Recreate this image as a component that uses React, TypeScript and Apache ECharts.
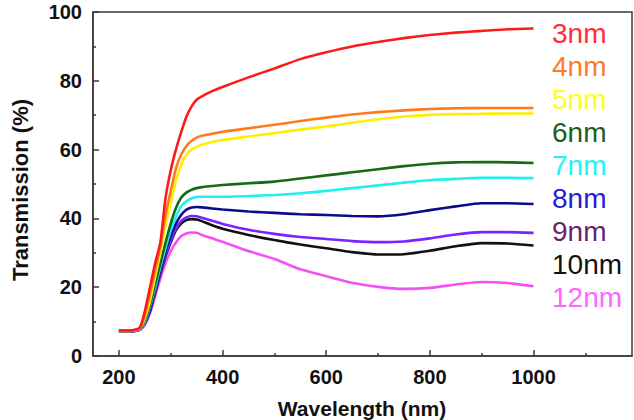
import React, { useEffect, useRef } from "react";
import * as echarts from "echarts";

// Wavelength sampling (nm) shared by every transmission curve
const wavelengths = [200, 220, 240, 250, 260, 270, 280, 290, 300, 310, 320, 330, 340, 350, 360, 380, 400, 450, 500, 550, 600, 650, 700, 750, 800, 850, 900, 950, 1000];

// Transmission (%) for each film thickness
const t3nm = [7.5, 7.4, 8.2, 13, 20, 27, 33, 46, 54, 60, 65, 69.5, 72.5, 74.5, 75.5, 77, 78.2, 81, 83.6, 86.3, 88.3, 90, 91.3, 92.4, 93.3, 94, 94.5, 95, 95.2];
const t4nm = [7.3, 7.3, 8, 12, 18, 25, 32, 41, 48, 54.5, 58.5, 61, 62.5, 63.5, 64, 64.6, 65.2, 66.2, 67.2, 68.3, 69.3, 70.2, 70.9, 71.4, 71.8, 72, 72.1, 72.1, 72.1];
const t5nm = [7.3, 7.3, 7.9, 11, 16, 23, 30, 38, 44.5, 51, 55.5, 58.5, 60, 60.8, 61.4, 62.2, 62.8, 63.8, 64.8, 65.8, 66.7, 67.8, 68.8, 69.6, 70.1, 70.3, 70.4, 70.5, 70.5];
const t6nm = [7.3, 7.3, 7.9, 10.5, 15, 21, 27, 33, 38.5, 43, 46, 47.5, 48.3, 48.8, 49.1, 49.4, 49.7, 50.2, 50.7, 51.6, 52.5, 53.4, 54.3, 55.2, 55.9, 56.3, 56.4, 56.3, 56.1];
const t7nm = [7.3, 7.3, 7.8, 10, 14.5, 20, 26, 31.5, 36.5, 40.5, 43.5, 45, 45.8, 46.2, 46.3, 46.3, 46.3, 46.5, 46.8, 47.3, 48, 48.8, 49.6, 50.4, 51.1, 51.5, 51.8, 51.8, 51.7];
const t8nm = [7.3, 7.3, 7.8, 10, 14, 19.5, 25, 30.5, 35, 38.5, 41, 42.5, 43.2, 43.3, 43.2, 42.9, 42.6, 42, 41.6, 41.2, 41, 40.7, 40.6, 41.2, 42.4, 43.5, 44.4, 44.4, 44.2];
const t9nm = [7.2, 7.2, 7.7, 9.5, 13.5, 19, 24.5, 29.5, 33.5, 37, 39.2, 40.3, 40.7, 40.6, 40.2, 39.3, 38.4, 36.7, 35.5, 34.6, 34, 33.4, 33.1, 33.3, 34.2, 35.3, 36, 36, 35.8];
const t10nm = [7.2, 7.2, 7.7, 9.5, 13, 18.5, 24, 29, 33, 36.5, 38.5, 39.5, 39.8, 39.7, 39.2, 38, 37, 35.2, 33.7, 32.4, 31.3, 30.2, 29.5, 29.6, 30.6, 31.9, 32.8, 32.7, 32.1];
const t12nm = [7.2, 7.2, 7.6, 9, 12.5, 17.5, 22.5, 27, 30.5, 33, 34.8, 35.6, 35.9, 35.8, 35.2, 34.2, 33.2, 30.5, 28.2, 25.2, 23.2, 21.3, 20.1, 19.5, 19.8, 20.8, 21.5, 21.2, 20.3];

const seriesNames = ["3nm", "4nm", "5nm", "6nm", "7nm", "8nm", "9nm", "10nm", "12nm"];
const seriesValues = [t3nm, t4nm, t5nm, t6nm, t7nm, t8nm, t9nm, t10nm, t12nm];
const lineColors = ["#ff1a1a", "#ff7a1a", "#ffee00", "#136b13", "#1ef0f0", "#0c0c8a", "#7a22ff", "#111111", "#f550f5"];
const labelColors = ["#ff2d3a", "#ff7a28", "#ffff1a", "#1d5e1d", "#22f2f2", "#1f1fd8", "#6e1f6e", "#111111", "#ff66ff"];

// Axis tick positions
const xMajorTicks = [200, 400, 600, 800, 1000];
const xMinorTicks = [300, 500, 700, 900, 1100];

const FONT = "'Liberation Sans', Arial, Helvetica, sans-serif";

export default function App() {
  const ref = useRef<HTMLDivElement>(null);

  useEffect(() => {
    if (!ref.current) return;
    const chart = echarts.init(ref.current, undefined, { renderer: "svg" });

    const series = seriesNames.map((name, i) => ({
      name,
      type: "line",
      xAxisIndex: 0,
      yAxisIndex: 0,
      showSymbol: false,
      smooth: 0.2,
      data: wavelengths.map((w, j) => [w, seriesValues[i][j]]),
      lineStyle: { color: lineColors[i], width: 2.6 },
      itemStyle: { color: lineColors[i] },
      z: 10 - i,
    }));

    const labelTop = 33;
    const labelStep = 33.1;
    const labels = seriesNames.map((name, i) => ({
      type: "text",
      x: 552,
      y: labelTop + i * labelStep,
      style: {
        text: name,
        fill: labelColors[i],
        font: `28px ${FONT}`,
        textVerticalAlign: "middle",
        textAlign: "left",
      },
    }));

    chart.setOption({
      animation: false,
      backgroundColor: "#ffffff",
      grid: {
        left: 93,
        right: 2,
        top: 12,
        bottom: 64,
        show: true,
        borderColor: "#3a3a3a",
        borderWidth: 1.5,
        backgroundColor: "transparent",
      },
      xAxis: [
        {
          type: "value",
          min: 150,
          max: 1190,
          position: "bottom",
          splitLine: { show: false },
          axisLine: { show: true, lineStyle: { color: "#3a3a3a", width: 1.5 } },
          axisTick: {
            show: true,
            inside: true,
            length: 6,
            customValues: xMajorTicks,
            lineStyle: { color: "#3a3a3a", width: 1.5 },
          },
          axisLabel: {
            customValues: xMajorTicks,
            formatter: (v: number) => String(v),
            margin: 11,
            color: "#111",
            fontFamily: FONT,
            fontWeight: "bold",
            fontSize: 20,
          },
        },
        {
          type: "value",
          min: 150,
          max: 1190,
          position: "bottom",
          splitLine: { show: false },
          axisLine: { show: false },
          axisTick: {
            show: true,
            inside: true,
            length: 3,
            customValues: xMinorTicks,
            lineStyle: { color: "#3a3a3a", width: 1.5 },
          },
          axisLabel: { show: false },
        },
      ],
      yAxis: {
        type: "value",
        min: 0,
        max: 100,
        interval: 20,
        splitLine: { show: false },
        axisLine: { show: true, lineStyle: { color: "#3a3a3a", width: 1.5 } },
        axisTick: { show: true, inside: true, length: 6, lineStyle: { color: "#3a3a3a", width: 1.5 } },
        minorTick: { show: true, splitNumber: 2, length: 3, lineStyle: { color: "#3a3a3a", width: 1.5 } },
        axisLabel: {
          margin: 11,
          color: "#111",
          fontFamily: FONT,
          fontWeight: "bold",
          fontSize: 20,
        },
      },
      series,
      graphic: [
        ...labels,
        {
          type: "text",
          x: 362,
          y: 408,
          style: {
            text: "Wavelength (nm)",
            fill: "#111",
            font: `bold 21px ${FONT}`,
            textAlign: "center",
            textVerticalAlign: "middle",
          },
        },
        {
          type: "text",
          x: 20,
          y: 190,
          rotation: Math.PI / 2,
          style: {
            text: "Transmission (%)",
            fill: "#111",
            font: `bold 22px ${FONT}`,
            textAlign: "center",
            textVerticalAlign: "middle",
          },
        },
      ],
    });

    return () => chart.dispose();
  }, []);

  return <div ref={ref} style={{ width: 634, height: 420, position: "absolute", left: 0, top: 0 }} />;
}
